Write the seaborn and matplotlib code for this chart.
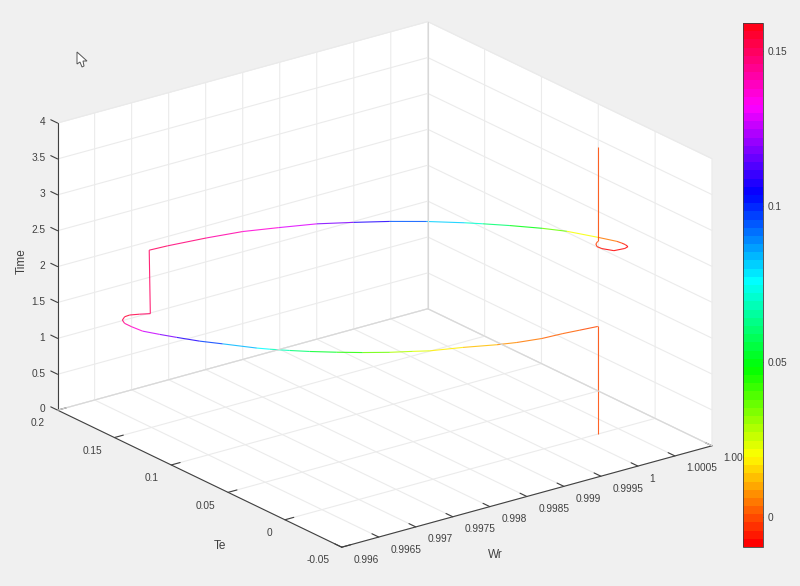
import numpy as np
import matplotlib
matplotlib.use("Agg")
import matplotlib.pyplot as plt
import seaborn as sns
from matplotlib.colors import Normalize
from matplotlib.cm import ScalarMappable
from matplotlib.patches import Polygon
from matplotlib.transforms import ScaledTranslation
from mpl_toolkits.mplot3d.art3d import Line3DCollection

wr = [1.000225, 1.000225, 1.0000, 0.999788, 0.999513, 0.99922, 0.999002, 0.998652, 0.998297, 0.998137,
      0.997916, 0.997671, 0.997446, 0.997219, 0.997059, 0.996905, 0.99681, 0.996582, 0.996426, 0.996289,
      0.996191, 0.996098, 0.996079, 0.996077, 0.996115, 0.996195, 0.996269, 0.99637, 0.996471, 0.99647,
      0.996697, 0.997162, 0.997573, 0.997941, 0.998323, 0.998655, 0.99897, 0.999275, 0.999566, 0.999697,
      0.999889, 1.000105, 1.000258, 1.000407, 1.000492, 1.000502, 1.000505, 1.00049, 1.00043, 1.000282,
      1.00019, 1.00017, 1.000183, 1.000225, 1.000225]
te = [0.0, 0.0, 0.0011, 0.0022, 0.0028, 0.0057, 0.0091, 0.0162, 0.0222, 0.0267,
      0.0325, 0.0404, 0.0486, 0.0576, 0.0648, 0.0723, 0.0775, 0.0927, 0.1028, 0.1141,
      0.1227, 0.1316, 0.14, 0.1461, 0.1505, 0.1537, 0.1541, 0.1519, 0.1491, 0.15,
      0.1486, 0.1445, 0.1396, 0.1319, 0.1233, 0.1124, 0.1012, 0.0885, 0.074, 0.0667,
      0.0554, 0.0413, 0.0293, 0.0117, 0.0005, -0.0032, -0.0061, -0.0093, -0.0105, -0.0105,
      -0.006, -0.0029, -0.0011, 0.0, 0.0]
time = [0.0, 1.5, 1.5038, 1.5074, 1.5118, 1.517, 1.5212, 1.5284, 1.5353, 1.5388,
        1.5437, 1.5493, 1.5548, 1.5604, 1.5646, 1.5688, 1.5716, 1.5788, 1.5836, 1.5884,
        1.592, 1.5956, 1.5979, 1.5994, 1.6, 1.6, 1.6, 1.6, 1.6, 2.478,
        2.485, 2.4956, 2.5053, 2.515, 2.5252, 2.5352, 2.5449, 2.5549, 2.5652, 2.57,
        2.5773, 2.586, 2.5927, 2.601, 2.606, 2.607, 2.607, 2.608, 2.609, 2.62,
        2.64, 2.65, 2.67, 2.686, 4.0]

wr_ticks = [0.996, 0.9965, 0.997, 0.9975, 0.998, 0.9985, 0.999, 0.9995, 1.0, 1.0005, 1.001]
wr_labels = ["0.996", "0.9965", "0.997", "0.9975", "0.998", "0.9985", "0.999", "0.9995", "1", "1.0005", "1.001"]
te_ticks = [-0.05, 0, 0.05, 0.1, 0.15, 0.2]
te_labels = ["-0.05", "0", "0.05", "0.1", "0.15", "0.2"]
time_ticks = [0, 0.5, 1, 1.5, 2, 2.5, 3, 3.5, 4]
time_labels = ["0", "0.5", "1", "1.5", "2", "2.5", "3", "3.5", "4"]
cbar_ticks = [0, 0.05, 0.1, 0.15]
cbar_labels = ["0", "0.05", "0.1", "0.15"]

BG = "#f0f0f0"
TXT = "#404040"
GRID = "#ebebeb"
AX = "#404040"
EDGE = "#d8d8d8"

sns.set_theme(style="white", rc={"figure.facecolor": BG, "savefig.facecolor": BG})
plt.rcParams["font.family"] = ["Liberation Sans", "DejaVu Sans"]

W, H = 800, 586
fig = plt.figure(figsize=(W / 100, H / 100), dpi=100)
S = 708.6
cx, cy = 375.2, 294.0
ax = fig.add_axes([(cx - S / 2) / W, (H - cy - S / 2) / H, S / W, S / H],
                  projection="3d", proj_type="ortho")
ax.patch.set_alpha(0)
ax.view_init(elev=21.31, azim=-127.0)
ax.set_box_aspect((463.3, 471.9, 308), zoom=1)
ax.set_xlim(wr_ticks[0], wr_ticks[-1])
ax.set_ylim(te_ticks[0], te_ticks[-1])
ax.set_zlim(time_ticks[0], time_ticks[-1])

cmap = plt.get_cmap("hsv").resampled(64)
norm = Normalize(-0.0097, 0.159)

# back edges of the box
ax.plot([wr_ticks[0], wr_ticks[-1]], [te_ticks[-1]] * 2, [time_ticks[0]] * 2, color=EDGE, lw=0.8)
ax.plot([wr_ticks[-1]] * 2, [te_ticks[0], te_ticks[-1]], [time_ticks[0]] * 2, color=EDGE, lw=0.8)
ax.plot([wr_ticks[-1]] * 2, [te_ticks[-1]] * 2, [time_ticks[0], time_ticks[-1]], color=EDGE, lw=0.8)

pts = np.column_stack([wr, te, time])
segs = np.stack([pts[:-1], pts[1:]], axis=1)
lc = Line3DCollection(segs, cmap=cmap, norm=norm, linewidths=0.8, alpha=0.85)
lc.set_array(0.5 * (np.array(te)[:-1] + np.array(te)[1:]))
ax.add_collection3d(lc, autolim=False)

for axis, ticks, labels in ((ax.xaxis, wr_ticks, wr_labels),
                            (ax.yaxis, te_ticks, te_labels),
                            (ax.zaxis, time_ticks, time_labels)):
    axis.set_ticks(ticks)
    axis.set_ticklabels(labels)
    axis.set_pane_color((1, 1, 1, 1))
    axis.pane.set_edgecolor("#e6e6e6")
    axis.pane.set_linewidth(0.6)
    axis.line.set_color(AX)
    axis.line.set_linewidth(0.8)
    info = axis._axinfo
    info["grid"].update(color=GRID, linewidth=0.8)
    info["tick"].update(inward_factor=0.0, outward_factor=0.3, linewidth={True: 0.8, False: 0.8}, color=AX)
ax.zaxis._get_tickdir = lambda *a: 1
ax.grid(True)
ax.tick_params(axis="both", labelsize=7.3, labelcolor=TXT, colors=TXT)
ax.tick_params(axis="x", pad=3)
ax.tick_params(axis="y", pad=1)
ax.tick_params(axis="z", pad=-3)
for l in ax.xaxis.get_ticklabels():
    l.set_ha("left"); l.set_va("bottom")
for l in ax.yaxis.get_ticklabels():
    l.set_ha("right"); l.set_va("center")
for l in ax.zaxis.get_ticklabels():
    l.set_ha("right"); l.set_va("center")

ax.set_xlabel("Wr", fontsize=8.5, color=TXT, labelpad=8)
ax.set_ylabel("Te", fontsize=8.5, color=TXT, labelpad=8)
ax.set_zlabel("Time", fontsize=8.5, color=TXT, labelpad=8, rotation=90)
for axis in (ax.xaxis, ax.yaxis, ax.zaxis):
    axis.set_rotate_label(False)


def shift_label(axis, dx, dy):
    offset = ax.transData + ScaledTranslation(dx / 100, dy / 100, fig.dpi_scale_trans)
    axis.label.get_transform = lambda: offset


shift_label(ax.xaxis, -63, -12)
shift_label(ax.yaxis, 61, -25)
shift_label(ax.zaxis, 36, 2)

cax = fig.add_axes([743 / W, (H - 547) / H, 20 / W, 524 / H])
cb = fig.colorbar(ScalarMappable(norm=norm, cmap=cmap), cax=cax)
cb.set_ticks(cbar_ticks, labels=cbar_labels)
cb.ax.tick_params(direction="in", length=3.5, width=0.6, color=AX, labelsize=7.3, labelcolor=TXT, pad=3)
cb.outline.set_edgecolor(AX)
cb.outline.set_linewidth(0.6)

cursor_x = [77, 77, 80, 82, 84, 83, 87]
cursor_y = [52, 64, 62, 67, 66, 61, 61]
fig.add_artist(Polygon(np.column_stack([np.array(cursor_x) / W, 1 - np.array(cursor_y) / H]),
                       closed=True, transform=fig.transFigure, facecolor="white",
                       edgecolor="#555555", linewidth=0.7))

fig.savefig("out.png", dpi=100)
